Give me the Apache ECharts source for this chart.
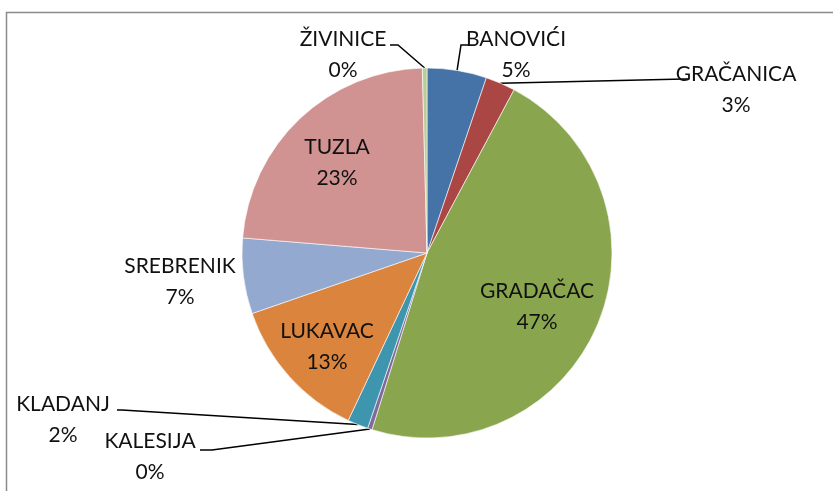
<!DOCTYPE html>
<html>
<head>
<meta charset="utf-8">
<script src="https://cdn.jsdelivr.net/npm/echarts@6/dist/echarts.min.js"></script>
<style>
  html, body { margin: 0; padding: 0; background: #fff; }
  #main { width: 833px; height: 491px; }
</style>
</head>
<body>
<div id="main"></div>
<script>
// općine i udjeli (procjena iz slike)
var names = ['BANOVIĆI', 'GRAČANICA', 'GRADAČAC', 'KALESIJA', 'KLADANJ', 'LUKAVAC', 'SREBRENIK', 'TUZLA', 'ŽIVINICE'];
var values = [5.2, 2.6, 47.0, 0.4, 1.8, 12.7, 6.6, 23.3, 0.4];
var colors = ['#4572A7', '#AA4643', '#89A54E', '#80699B', '#3D96AE', '#DB843D', '#93A9CF', '#D19392', '#B9CD96'];

// gdje stoje natpisi (centar bloka teksta) i koji imaju liniju
var labelPos = [[516, 55], [736, 90], [537, 307], [150, 457], [63, 420], [327, 347], [180, 282], [337, 163], [343, 55]];
var hasLine = [true, true, false, true, true, false, false, false, true];
// lakat linije i kraj kod teksta
var linePts = [
  [[461, 45], [470, 45]],
  [[684, 79], [688, 79]],
  null,
  [[212, 450], [200, 450]],
  [[122, 410], [117, 410]],
  null, null, null,
  [[398, 45], [390, 45]]
];

var cx = 427, cy = 253, R = 185;

var total = values.reduce(function (a, b) { return a + b; }, 0);
var mids = [];
var acc = 0;
values.forEach(function (v) {
  mids.push((acc + v / 2) / total * Math.PI * 2);
  acc += v;
});

var data = names.map(function (n, i) {
  return {
    name: n,
    value: values[i],
    itemStyle: { color: colors[i] },
    labelLine: { show: hasLine[i] }
  };
});

var myChart = echarts.init(document.getElementById('main'));

var option = {
  animation: false,
  graphic: [{
    type: 'rect',
    shape: { x: 6.5, y: 12.5, width: 860, height: 520 },
    style: { fill: null, stroke: '#8a8a8a', lineWidth: 1.5 },
    silent: true
  }],
  series: [{
    type: 'pie',
    center: [cx, cy],
    radius: R,
    startAngle: 90,
    clockwise: true,
    avoidLabelOverlap: false,
    itemStyle: { borderColor: '#fff', borderWidth: 0.6 },
    label: {
      show: true,
      position: 'outside',
      fontFamily: 'Lato',
      fontSize: 21,
      color: '#111',
      lineHeight: 31,
      align: 'center',
      formatter: function (p) {
        return p.name + '\n' + Math.round(p.percent) + '%';
      }
    },
    labelLine: {
      lineStyle: { color: '#000', width: 1.5 }
    },
    labelLayout: function (p) {
      var i = p.dataIndex;
      var pos = labelPos[i];
      var res = { x: pos[0], y: pos[1], align: 'center', verticalAlign: 'middle' };
      if (hasLine[i]) {
        var a = mids[i];
        var anchor = [cx + R * Math.sin(a), cy - R * Math.cos(a)];
        res.labelLinePoints = [anchor, linePts[i][0], linePts[i][1]];
      }
      return res;
    },
    data: data
  }]
};

myChart.setOption(option);
</script>
</body>
</html>
